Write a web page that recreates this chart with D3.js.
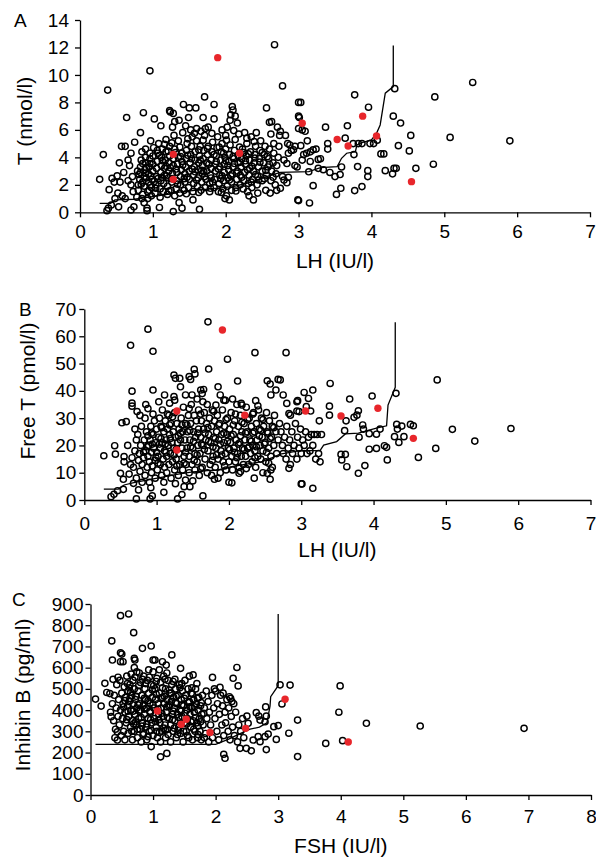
<!DOCTYPE html>
<html>
<head>
<meta charset="utf-8">
<script src="https://cdn.jsdelivr.net/npm/d3@7"></script>
<style>
  body { margin: 0; background: #fff; }
  svg text { font-family: "Liberation Sans", Arial, sans-serif; fill: #000; }
</style>
</head>
<body>
<svg id="chart" width="596" height="859"></svg>
<script>
// === Panel A: T vs LH ===
const aOpen = [
  [0.27,2.4],[0.32,4.2],[0.38,8.9],[0.37,0.12],[0.39,0.3],[0.43,0.53],[0.4,1.65],[0.44,2.47],[0.51,2.65],[0.55,2.2],
  [0.53,0.4],[0.54,3.6],[0.57,4.8],[0.62,4.8],[0.64,6.9],[0.68,3.4],[0.48,1.0],[0.58,1.2],[0.62,1.0],[0.66,2.3],
  [0.7,2.0],[0.72,2.6],[0.7,0.17],[0.74,0.4],[0.6,2.9],[0.66,3.8],[0.7,4.3],[0.73,1.5],[0.75,5.1],[0.47,2.2],[0.52,1.4],
  [0.78,1.1],[0.8,1.6],[0.8,2.0],[0.82,2.4],[0.83,2.9],[0.83,3.3],[0.84,3.8],[0.85,4.4],[0.83,5.8],[0.86,1.3],
  [0.87,7.25],[0.88,1.9],[0.88,2.6],[0.89,3.1],[0.9,3.6],[0.9,4.0],[0.9,4.6],[0.92,0.3],[0.92,0.12],[0.93,1.0],
  [0.93,1.5],[0.94,2.2],[0.94,2.8],[0.95,3.3],[0.96,3.9],[0.96,4.3],[0.97,5.2],[0.96,10.3],[0.98,1.2],[0.98,1.8],
  [0.99,2.4],[1.0,3.0],[1.0,3.5],[1.0,4.1],[1.02,6.8],[1.01,4.7],[0.79,3.0],[0.86,2.2],[0.91,2.5],[0.97,2.0],
  [0.95,1.6],[0.85,1.0],[0.88,0.7],
  [1.03,1.4],[1.04,2.0],[1.05,2.6],[1.05,3.2],[1.06,3.7],[1.07,4.3],[1.08,5.0],[1.09,0.35],[1.1,1.1],[1.1,1.7],
  [1.11,2.3],[1.11,2.9],[1.12,3.4],[1.12,4.0],[1.13,4.6],[1.11,6.3],[1.14,1.5],[1.15,2.1],[1.16,2.7],[1.16,3.2],
  [1.17,3.8],[1.18,4.4],[1.18,5.3],[1.2,1.3],[1.2,1.9],[1.21,2.5],[1.22,3.0],[1.22,3.6],[1.23,4.1],[1.23,4.8],
  [1.23,7.4],[1.24,7.3],[1.25,1.6],[1.26,2.2],[1.27,2.8],[1.28,3.4],[1.28,3.9],[1.28,7.2],[1.29,5.6],[1.3,4.6],
  [1.28,0.05],[1.3,1.2],[1.3,6.6],[1.27,6.2],
  [1.32,1.7],[1.33,2.3],[1.33,2.9],[1.34,3.5],[1.35,4.0],[1.35,5.2],[1.36,0.7],[1.37,1.4],[1.38,2.0],[1.38,2.6],
  [1.39,3.1],[1.4,3.7],[1.4,4.3],[1.41,5.8],[1.42,7.85],[1.43,1.6],[1.44,2.2],[1.44,2.8],[1.45,3.3],[1.46,3.9],
  [1.46,4.5],[1.47,5.0],[1.49,6.9],[1.5,7.6],[1.49,1.8],[1.5,2.4],[1.5,3.0],[1.51,3.6],[1.52,4.2],[1.53,4.8],
  [1.54,5.5],[1.55,1.5],[1.56,2.1],[1.56,2.7],[1.57,3.3],[1.58,3.8],[1.58,4.4],[1.59,7.6],[1.6,5.2],[1.55,0.9],
  [1.6,6.1],[1.45,6.3],[1.52,6.0],[1.36,6.7],[1.4,0.3],
  [1.61,1.9],[1.62,2.5],[1.62,3.1],[1.63,3.6],[1.64,4.1],[1.64,0.22],[1.65,4.8],[1.66,1.6],[1.67,2.2],[1.68,2.8],
  [1.68,3.4],[1.69,3.9],[1.7,4.5],[1.71,8.4],[1.71,5.6],[1.72,1.8],[1.73,2.4],[1.74,3.0],[1.74,3.6],[1.75,4.2],
  [1.76,4.8],[1.76,6.2],[1.78,1.5],[1.78,2.1],[1.79,2.7],[1.8,3.2],[1.8,3.8],[1.81,4.4],[1.82,5.1],[1.84,7.85],
  [1.84,6.8],[1.84,1.8],[1.85,2.4],[1.86,3.0],[1.86,3.5],[1.87,4.1],[1.88,4.7],[1.89,5.5],[1.9,1.5],[1.66,5.9],
  [1.72,6.1],[1.69,6.9],
  [1.91,2.1],[1.92,2.7],[1.92,3.3],[1.93,3.8],[1.94,4.4],[1.95,5.0],[1.96,1.7],[1.97,2.3],[1.98,2.9],[1.98,3.5],
  [1.99,4.0],[2.0,4.6],[2.0,5.6],[2.01,1.2],[2.02,1.9],[2.03,2.5],[2.04,3.1],[2.04,3.7],[2.05,4.2],[2.06,4.9],
  [2.06,6.7],[2.07,7.1],[2.08,1.6],[2.08,2.2],[2.09,2.8],[2.09,7.7],[2.1,7.45],[2.1,3.3],[2.11,3.9],[2.12,4.5],
  [2.13,7.0],[2.13,5.3],[2.14,1.8],[2.15,2.4],[2.16,3.0],[2.16,6.5],[2.17,3.6],[2.18,5.7],[2.2,2.0],[2.2,2.7],
  [2.02,6.2],[1.95,6.0],[2.05,0.9],[1.99,1.0],
  [2.21,3.3],[2.22,3.9],[2.23,4.6],[2.24,1.7],[2.25,2.3],[2.26,2.9],[2.27,3.5],[2.28,4.1],[2.29,5.0],[2.3,1.5],
  [2.31,2.1],[2.32,2.7],[2.33,3.2],[2.33,3.8],[2.34,4.4],[2.35,5.5],[2.36,1.8],[2.37,2.4],[2.38,3.0],[2.39,3.6],
  [2.4,4.2],[2.41,4.8],[2.42,5.8],[2.43,2.0],[2.44,2.6],[2.45,3.3],[2.46,3.9],[2.47,4.5],[2.48,5.2],[2.5,2.3],
  [2.5,3.0],[2.26,5.8],[2.32,1.2],[2.44,1.4],[2.38,0.9],
  [2.52,3.6],[2.53,4.2],[2.54,4.8],[2.55,1.6],[2.56,7.6],[2.56,2.7],[2.58,3.3],[2.59,3.9],[2.6,6.55],[2.6,4.6],
  [2.61,1.4],[2.62,2.3],[2.63,6.6],[2.63,3.0],[2.65,3.6],[2.66,4.3],[2.66,5.0],[2.67,12.2],[2.68,2.0],[2.69,2.8],
  [2.7,3.4],[2.71,6.2],[2.72,4.0],[2.73,4.8],[2.74,5.6],[2.75,1.75],[2.75,5.9],[2.78,9.2],[2.78,2.6],[2.8,3.8],
  [2.8,2.35],[2.82,5.6],[2.84,3.55],[2.84,2.15],[2.85,5.0],[2.86,4.3],[2.86,2.55],[2.88,4.9],[2.9,4.5],[2.93,4.55],
  [2.95,4.8],[2.95,3.4],[2.98,3.3],[2.99,0.9],[3.0,8.0],[3.0,7.0],[3.0,6.1],[2.7,1.6],[2.62,5.7],
  [1.07,2.45],[1.13,3.75],[1.19,2.65],[1.24,3.25],[1.31,4.35],[1.34,2.05],[1.41,3.45],[1.47,2.55],[1.53,3.9],[1.58,2.95],
  [1.63,4.55],[1.67,3.05],[1.71,2.6],[1.77,3.5],[1.82,2.2],[1.87,3.7],[1.93,2.45],[1.97,4.3],[2.03,3.4],[2.07,2.65],
  [2.12,3.55],[2.17,4.15],[2.22,2.55],[2.27,3.75],[2.31,4.25],[2.36,3.35],[2.41,2.75],[2.47,3.65],[2.53,2.45],[2.57,4.05],
  [1.09,4.15],[1.16,4.95],[1.26,5.05],[1.37,4.75],[1.48,5.35],[1.57,5.75],[1.69,5.25],[1.81,5.75],[1.91,4.75],[2.01,5.25],
  [2.11,5.95],[2.19,4.75],[2.29,5.4],[2.39,5.15],[0.97,2.65],[0.91,3.25],[0.86,3.55],[0.81,2.75],[1.04,1.75],[1.22,1.55],
  [1.46,1.35],[1.63,1.45],[1.79,1.75],[1.94,1.45],[2.14,1.55],
  [0.84,2.05],[0.9,2.85],[0.96,3.55],[1.02,2.25],[1.06,4.5],[1.12,2.55],[1.18,3.35],[1.21,4.45],[1.26,2.45],[1.32,3.15],
  [1.38,4.05],[1.43,2.45],[1.48,4.15],[1.54,3.15],[1.6,2.35],[1.65,3.8],[1.7,2.95],[1.75,4.65],[1.8,2.5],[1.84,4.2],
  [1.9,3.15],[1.95,2.65],[2.0,3.75],[2.05,2.35],[2.1,4.05],[2.15,2.85],[2.2,3.65],[2.25,4.35],[2.3,3.1],[2.35,2.2],
  [2.4,3.95],[2.45,2.35],[2.5,4.35],[2.55,3.05],[2.6,3.5],[2.65,2.55],
  [3.03,8.0],[3.01,6.9],[3.05,6.0],[3.09,5.9],[3.12,5.2],[3.03,4.85],[3.07,4.2],[3.11,4.3],[3.16,4.4],[3.2,4.55],
  [3.24,4.6],[3.05,3.8],[3.16,3.7],[3.27,3.85],[3.3,3.9],[3.14,2.95],[3.27,3.2],[3.34,3.1],[3.43,2.9],[3.5,2.6],
  [3.57,2.75],[3.59,3.3],[3.37,6.2],[3.4,5.0],[3.4,4.6],[3.64,5.4],[3.67,6.3],[3.77,8.55],[3.96,7.65],[3.75,5.0],
  [3.82,5.0],[3.87,5.0],[3.76,4.2],[3.81,3.33],[3.95,3.03],[3.95,2.6],[3.98,5.0],[4.03,5.0],[4.08,5.25],[3.58,1.75],
  [3.52,1.3],[3.77,1.58],[3.87,1.87],[3.2,1.94],[3.0,0.85],[3.15,0.68],[4.13,4.25],[4.17,4.25],[4.19,3.03],[4.29,2.8],
  [4.31,3.2],[4.34,3.2],[4.32,9.0],[4.3,7.0],[4.4,6.5],[4.54,5.6],[4.37,4.85],[4.52,4.47],[4.61,3.2],[4.85,3.5],
  [4.87,8.4],[5.08,5.45],[5.39,9.45],[5.9,5.2]
];
const aRed = [[1.28,4.22],[1.28,2.4],[1.89,11.26],[2.19,4.3],[3.05,6.48],[3.53,5.3],[3.68,4.83],[3.88,7.0],[4.07,5.56],[4.55,2.23]];
const aLine = [
  [0.27,0.65],[0.42,0.65],[0.48,0.9],[0.75,0.95],[0.95,1.1],[1.2,1.3],[1.4,1.5],[1.65,1.63],[2.1,1.87],[2.38,2.23],
  [2.56,2.6],[2.75,2.91],[3.14,2.96],[3.3,3.25],[3.53,3.33],[3.59,3.93],[3.66,4.3],[3.78,4.42],[3.8,4.9],[3.87,5.07],
  [4.0,5.27],[4.07,5.75],[4.12,6.36],[4.19,8.67],[4.3,9.15],[4.3,12.14]
];
const aXTicks = [0, 1, 2, 3, 4, 5, 6, 7];
const aYTicks = [0, 2, 4, 6, 8, 10, 12, 14];

// === Panel B: Free T vs LH ===
const bOpen = [
  [0.27,16.2],[0.37,1.2],[0.41,2.1],[0.46,3.4],[0.42,19.9],[0.43,16.8],[0.5,9.8],[0.54,7.6],[0.54,3.9],[0.55,14],
  [0.55,15.9],[0.58,28.7],[0.52,28.3],[0.64,56.7],[0.66,39.9],[0.66,34.4],[0.73,32.4],[0.72,0.4],[0.75,3.7],[0.68,6.1],
  [0.88,62.6],[0.95,54.5],[0.95,40.3],[0.91,0.4],[0.94,1.5],[1.1,2.8],[1.11,38.5],[1.24,45.8],[1.26,44.6],[1.32,44.6],
  [1.33,41.5],[1.24,37.9],[1.25,36.6],[1.29,0.4],[1.35,2],[1.38,4.9],[1.4,7.3],[1.46,4.9],[1.45,45.2],[1.47,44.2],
  [1.52,47.9],[1.53,46.2],[1.4,38.5],[1.49,38.5],[1.64,1.5],[1.61,40.3],[1.65,40.5],[1.63,39],[1.71,65.3],[1.72,48],
  [1.82,34.8],[1.85,41.5],[1.88,38.5],[1.93,36.6],[1.98,51.6],[1.8,7.6],[2.04,6.3],[2.12,43.6],[2.14,9.8],[2.16,10.4],
  [2.17,35.4],[2.18,34.8],[2.36,54],[2.37,36.4],[2.33,31.5],[2.53,43.7],[2.57,42.5],[2.68,44.2],[2.65,40.3],[2.58,38.5],
  [2.79,54],[2.75,38.5],[2.8,35.4],[2.83,31.7],[2.85,31.1],[2.53,9.8],[2.57,7.6],[2.58,11],[2.83,11.6],[2.95,36.4],
  [2.97,32.4],[3.0,5.9],
  [2.71,44],[2.94,36],[2.94,32.6],[3.04,39.4],[3.1,37.2],[3.16,40.3],[3.07,34.2],[3.13,32.6],[3.4,42.7],[3.39,34.4],
  [3.39,31.1],[3.67,37],[3.25,29],[3.55,16.7],[3.61,16.7],[3.56,14.7],[3.63,12.2],[3.01,5.9],[3.16,4.3],[3.62,29],
  [3.73,30.3],[3.79,32.7],[3.77,31.1],[3.6,25.4],[3.8,23],[3.85,27.5],[3.86,26],[3.94,24.3],[3.98,38.1],[4.04,24.1],
  [4.09,26],[3.94,18.6],[4.04,18.9],[3.79,9.8],[3.88,12.6],[4.15,19.9],[4.18,19.3],[4.19,14.7],[4.29,23.2],[4.35,21.1],
  [4.42,23.2],[4.33,26],[4.32,27.7],[4.39,27.1],[4.51,27.7],[4.55,27.2],[4.31,39.1],[4.62,15.6],[4.86,18.9],[4.88,44],
  [5.09,25.9],[5.4,21.6],[5.9,26.2],
  [0.62,9.5],[0.64,13],[0.66,15.5],[0.68,12],[0.7,18],[0.72,22],[0.72,8],[0.74,24],[0.75,14.5],[0.76,17],
  [0.77,10.5],[0.78,20],[0.79,27],[0.8,6.5],[0.8,13],[0.82,15.5],[0.83,22],[0.84,9],[0.84,30],[0.85,18],
  [0.86,25],[0.87,12],[0.88,16],[0.88,33.5],[0.89,20],[0.9,6.5],[0.9,14],[0.91,22],[0.92,27],[0.93,10],
  [0.93,17.5],[0.94,12.5],[0.95,24],[0.96,19],[0.97,29],[0.98,8],[0.98,14.5],[0.99,21],[1.0,26],[0.77,31],
  [0.7,26],[0.85,35],[0.66,35.5],[0.6,20],[0.92,4.5],
  [1.01,11],[1.02,16],[1.03,23],[1.04,30],[1.05,13],[1.05,19],[1.06,27],[1.07,9],[1.08,21],[1.08,33],
  [1.09,15],[1.1,25],[1.11,12],[1.11,18],[1.12,29],[1.13,22],[1.14,10],[1.14,16],[1.15,26],[1.16,20],
  [1.17,13],[1.17,31],[1.18,24],[1.19,17],[1.2,8],[1.2,28],[1.21,21],[1.22,14],[1.23,25],[1.24,19],
  [1.25,11],[1.25,32],[1.26,23],[1.27,15],[1.28,28],[1.29,21],[1.3,9],[1.31,17],[1.31,26],[1.32,13],
  [1.33,22],[1.34,30],[1.35,19],[1.36,11],[1.36,25],[1.37,34],[1.38,16],[1.39,22],[1.4,28],[1.03,36],
  [1.1,6.5],[1.18,35.5],[1.26,6],
  [1.41,13],[1.42,19],[1.43,25],[1.44,31],[1.45,10],[1.45,16],[1.46,22],[1.47,28],[1.48,35],[1.49,13],
  [1.5,19],[1.51,25],[1.52,31],[1.53,11],[1.53,17],[1.54,23],[1.55,29],[1.56,14],[1.57,20],[1.58,26],
  [1.58,33],[1.59,9],[1.6,17],[1.61,23],[1.62,29],[1.63,12],[1.64,20],[1.65,26],[1.66,32],[1.67,15],
  [1.68,22],[1.69,28],[1.7,10],[1.7,35],[1.71,18],[1.72,24],[1.73,30],[1.74,13],[1.75,21],[1.76,27],
  [1.77,33],[1.78,16],[1.79,23],[1.8,29],[1.56,37],[1.64,36],[1.5,7],[1.76,9],
  [1.81,12],[1.82,19],[1.83,25],[1.84,31],[1.85,15],[1.86,22],[1.87,28],[1.88,10],[1.89,18],[1.9,24],
  [1.91,33],[1.92,14],[1.93,21],[1.94,27],[1.95,17],[1.96,11],[1.97,24],[1.98,30],[1.99,19],[2.0,14],
  [2.01,26],[2.02,21],[2.03,32],[2.04,16],[2.05,11],[2.06,24],[2.07,19],[2.08,29],[2.09,14],[2.1,22],
  [2.11,35],[2.12,17],[2.13,27],[2.14,12],[2.15,21],[2.16,31],[2.17,16],[2.18,25],[2.19,19],[2.2,13],
  [1.95,36.5],[2.05,37],[1.85,8],[2.0,6.5],
  [2.21,28],[2.22,22],[2.23,16],[2.24,34],[2.25,25],[2.26,19],[2.27,13],[2.28,30],[2.29,22],[2.3,17],
  [2.31,27],[2.32,14],[2.33,20],[2.34,32],[2.35,25],[2.36,18],[2.37,12],[2.38,28],[2.39,22],[2.4,16],
  [2.41,33],[2.42,26],[2.43,20],[2.44,15],[2.45,30],[2.46,23],[2.47,18],[2.48,27],[2.5,21],[2.51,14],
  [2.52,32],[2.53,25],[2.55,19],[2.56,29],[2.58,16],[2.59,23],[2.6,27],[2.62,20],[2.63,31],[2.65,25],
  [2.66,17],[2.68,22],[2.7,28],[2.47,10],[2.35,8],[2.6,12],
  [2.72,25],[2.74,20],[2.75,17],[2.77,23],[2.79,15],[2.8,27],[2.82,19],[2.84,22],[2.85,13],[2.87,25],
  [2.88,17],[2.9,20],[2.92,28],[2.94,15],[2.95,23],[2.97,19],[2.99,26],[3.0,17],[3.02,22],[3.04,20],
  [3.06,25],[3.08,17],[3.1,23],[3.12,18],[3.14,24],[3.16,20],[3.18,24],[3.2,15],[3.22,24],[3.24,17],
  [3.26,14],[3.28,24],
  [0.87,19.5],[0.93,24.5],[0.99,15.5],[1.04,20.5],[1.07,26.5],[1.13,17.5],[1.19,22.5],[1.22,30.5],[1.27,18.5],[1.33,24.5],
  [1.38,13.5],[1.42,27.5],[1.47,19.5],[1.52,14.5],[1.57,24.5],[1.61,31.5],[1.66,18.5],[1.71,26.5],[1.77,14.5],[1.81,22.5],
  [1.86,27.5],[1.9,16.5],[1.96,29.5],[2.01,18.5],[2.06,27.5],[2.11,15.5],[2.16,23.5],[2.21,18.5],[2.26,29.5],[2.31,21.5],
  [2.36,15.5],[2.42,23.5],[2.47,29.5],[2.52,17.5],[2.57,22.5],[2.62,26.5],[1.15,31.5],[1.28,12.5],[1.45,33.5],[1.61,11.5],
  [1.79,32.5],[1.94,12.5],[2.09,31.5],[2.24,11.5],[2.4,34.5],[2.55,13.5],[1.02,13.5],[0.95,31.5],
  [0.82,17.5],[0.88,23.5],[0.94,20.5],[1.0,17.5],[1.06,22.5],[1.12,20.5],[1.18,27.5],[1.24,16.5],[1.3,23.5],[1.35,27.5],
  [1.4,17.5],[1.46,25.5],[1.51,21.5],[1.56,16.5],[1.62,20.5],[1.67,24.5],[1.72,21.5],[1.78,19.5],[1.83,16.5],[1.88,20.5],
  [1.93,24.5],[1.98,21.5],[2.03,23.5],[2.08,17.5],[2.13,20.5],[2.18,28.5],[2.23,24.5],[2.28,19.5],[2.33,24.5],[2.38,19.5],
  [2.44,25.5],[2.49,20.5],[2.54,24.5]
];
const bRed = [[1.28,32.6],[1.28,18.3],[1.91,62.3],[2.22,31.1],[3.06,32.6],[3.55,30.8],[4.06,33.6],[4.55,22.6]];
const bLine = [
  [0.27,4],[0.47,4],[0.55,5.5],[0.7,6.5],[0.9,7.5],[1.1,8.5],[1.3,9.5],[1.5,10.3],[1.7,10.8],[1.85,11.0],
  [2.0,12],[2.2,13],[2.45,14],[2.6,15.5],[2.71,16.85],[2.98,18.1],[3.26,18.1],[3.31,20.1],[3.49,21.4],[3.61,24.2],
  [3.79,24.5],[4.04,26.3],[4.18,27.2],[4.2,34.8],[4.3,41.3],[4.3,65.1]
];
const bXTicks = [0, 1, 2, 3, 4, 5, 6, 7];
const bYTicks = [0, 10, 20, 30, 40, 50, 60, 70];

// === Panel C: Inhibin B vs FSH ===
const cOpen = [
  [0.08,452],[0.17,419],[0.23,526],[0.26,483],[0.31,478],[0.34,726],[0.35,636],[0.33,369],[0.43,298],[0.43,259],
  [0.48,845],[0.61,853],[0.48,670],[0.5,664],[0.48,628],[0.52,628],[0.69,765],[0.7,644],[0.71,636],[0.83,691],
  [0.97,702],[1.0,636],[1.03,636],[1.15,628],[1.21,612],[1.3,660],[1.44,597],[1.64,566],[1.95,554],[2.07,507],
  [2.28,550],[2.34,601],[2.36,514],[2.22,463],[2.24,455],[0.97,228],[1.12,180],[1.22,196],[2.13,192],[2.15,173],
  [2.39,220],[2.49,220],[2.57,208],[2.81,214],[2.5,372],[2.52,338],[2.65,388],[2.69,372],[2.71,353],[2.79,345],
  [2.81,372],[2.8,415],[2.6,259],[2.68,275],[2.71,251],[2.79,275],[2.84,287],[2.93,322],[3.0,327],[2.97,262],
  [3.03,519],[3.19,518],[3.06,429],[3.31,353],[3.17,291],[3.31,181],[3.99,514],[3.97,390],[4.41,338],[3.76,243],
  [4.03,256],[5.27,325],[6.93,314],
  [0.32,390],[0.35,430],[0.37,350],[0.38,470],[0.4,310],[0.41,410],[0.42,520],[0.44,370],[0.45,450],[0.46,330],
  [0.47,540],[0.48,400],[0.49,280],[0.5,480],[0.51,360],[0.52,430],[0.53,300],[0.54,510],[0.55,260],[0.55,390],
  [0.56,460],[0.57,340],[0.58,560],[0.59,420],[0.6,290],[0.6,490],[0.36,545],[0.44,555],[0.39,270],
  [0.61,370],[0.62,440],[0.63,520],[0.64,320],[0.65,400],[0.66,470],[0.67,260],[0.67,350],[0.68,540],[0.69,430],
  [0.7,300],[0.7,500],[0.71,380],[0.72,450],[0.73,330],[0.74,580],[0.74,410],[0.75,270],[0.76,490],[0.77,360],
  [0.78,430],[0.79,310],[0.8,530],[0.8,400],[0.81,250],[0.82,470],[0.83,340],[0.84,420],[0.85,290],[0.85,560],
  [0.86,380],[0.87,500],[0.88,450],[0.89,320],[0.9,410],[0.9,260],[0.91,540],[0.92,360],[0.93,480],[0.94,300],
  [0.95,430],[0.96,390],[0.97,520],[0.98,340],[0.99,460],[1.0,280],[1.0,580],[0.7,600],[0.78,575],[0.93,590],
  [0.65,570],
  [1.01,410],[1.02,360],[1.03,500],[1.04,450],[1.05,320],[1.06,550],[1.07,270],[1.08,430],[1.09,380],[1.1,480],
  [1.11,340],[1.12,250],[1.12,530],[1.13,410],[1.14,300],[1.15,460],[1.16,370],[1.17,560],[1.18,430],[1.19,330],
  [1.2,500],[1.2,270],[1.21,390],[1.22,450],[1.23,310],[1.24,540],[1.25,420],[1.26,360],[1.27,480],[1.28,250],
  [1.28,330],[1.29,440],[1.3,520],[1.31,380],[1.32,300],[1.33,460],[1.34,410],[1.35,350],[1.36,500],[1.37,270],
  [1.38,430],[1.39,380],[1.4,470],[1.1,590],[1.22,575],[1.35,545],
  [1.41,320],[1.42,520],[1.43,400],[1.44,290],[1.45,450],[1.46,370],[1.47,490],[1.48,250],[1.49,420],[1.5,340],
  [1.51,540],[1.52,470],[1.53,300],[1.54,400],[1.55,360],[1.56,500],[1.57,270],[1.58,440],[1.59,380],[1.6,320],
  [1.61,480],[1.62,410],[1.63,260],[1.64,350],[1.65,450],[1.66,390],[1.67,300],[1.68,500],[1.69,430],[1.7,340],
  [1.71,270],[1.72,400],[1.73,460],[1.74,360],[1.75,300],[1.76,420],[1.77,260],[1.78,380],[1.79,470],[1.8,330],
  [1.82,410],[1.84,290],[1.85,490],[1.86,360],[1.88,440],[1.89,250],[1.9,390],[1.58,560],[1.7,525],
  [1.92,330],[1.94,470],[1.95,270],[1.97,410],[1.99,360],[2.0,490],[2.02,300],[2.03,430],[2.05,260],[2.06,380],
  [2.08,470],[2.1,330],[2.11,420],[2.13,280],[2.15,390],[2.16,340],[2.18,450],[2.2,300],[2.21,410],[2.23,260],
  [2.25,370],[2.27,320],[2.29,430],[2.3,280],[2.32,390],[2.35,250],[2.37,330],[2.4,300],[2.43,360],[2.45,270],
  [1.98,500],[2.12,480],[2.26,440],
  [0.53,415],[0.58,355],[0.63,455],[0.68,395],[0.72,345],[0.76,425],[0.81,365],[0.86,455],[0.9,335],[0.95,395],
  [0.99,495],[1.04,345],[1.08,405],[1.13,455],[1.17,315],[1.22,415],[1.26,495],[1.31,355],[1.36,435],[1.4,305],
  [1.45,395],[1.5,455],[1.54,335],[1.59,415],[1.63,475],[1.68,365],[1.72,325],[1.77,435],[0.62,505],[0.77,515],
  [0.88,525],[1.01,515],[1.15,505],[1.29,480],[1.43,505],[0.66,300],[0.84,285],[0.97,305],[1.1,295],[1.24,285],
  [1.39,285],[1.55,280],[1.72,285],
  [0.55,445],[0.6,395],[0.64,485],[0.69,335],[0.73,465],[0.78,395],[0.82,325],[0.86,405],[0.92,445],[0.96,355],
  [1.0,425],[1.05,475],[1.09,355],[1.14,385],[1.18,465],[1.23,365],[1.27,425],[1.32,395],[1.37,465],[1.41,365],
  [1.46,425],[1.51,385],[1.56,435],[1.61,345],[1.66,415],[1.71,455],[1.76,345],[1.81,385],[0.59,525],[0.71,555],
  [0.83,545],[0.94,555],[1.05,535],[1.19,545],[1.32,535],[1.46,525],[1.62,505],[0.75,310],[0.92,275],[1.06,300],
  [1.2,305],[1.34,315],[1.49,300],[1.65,310],[1.82,270]
];
const cRed = [[1.07,396],[1.45,333],[1.53,357],[1.91,295],[2.48,314],[3.11,451],[4.12,250]];
const cLine = [
  [0.08,239],[2.0,239],[2.2,262],[2.4,290],[2.55,310],[2.7,320],[2.82,340],[2.87,420],[2.88,463],[3.0,515],[3.0,853]
];
const cXTicks = [0, 1, 2, 3, 4, 5, 6, 7, 8];
const cYTicks = [0, 100, 200, 300, 400, 500, 600, 700, 800, 900];

const svg = d3.select("#chart");
const RED = "#e8262b";

function drawPanel(p) {
  const x = d3.scaleLinear().domain([0, p.xMax]).range([p.left, p.right]);
  const y = d3.scaleLinear().domain([0, p.yMax]).range([p.bottom, p.top]);
  const g = svg.append("g");

  // axes
  const xAxis = g.append("g").attr("transform", `translate(0,${p.bottom})`)
    .call(d3.axisBottom(x).tickValues(p.xTicks).tickFormat(d3.format("d"))
      .tickSize(5).tickSizeOuter(0).tickPadding(p.xPad));
  const yAxis = g.append("g").attr("transform", `translate(${p.left},0)`)
    .call(d3.axisLeft(y).tickValues(p.yTicks).tickFormat(d3.format("d"))
      .tickSize(5).tickSizeOuter(0).tickPadding(p.yPad));
  [xAxis, yAxis].forEach(a => {
    a.attr("font-size", null).attr("font-family", null);
    a.selectAll("text").style("font-size", "19px");
    a.selectAll("path, line").attr("stroke", "#000").attr("stroke-width", 1.3);
  });

  // open circles
  g.selectAll("circle.open").data(p.open).enter().append("circle")
    .attr("class", "open")
    .attr("cx", d => x(d[0])).attr("cy", d => y(d[1])).attr("r", 3.1)
    .attr("fill", "none").attr("stroke", "#000").attr("stroke-width", 1.45);

  // line
  g.append("path").datum(p.line)
    .attr("d", d3.line().x(d => x(d[0])).y(d => y(d[1])))
    .attr("fill", "none").attr("stroke", "#000").attr("stroke-width", 1.3);

  // red points
  g.selectAll("circle.red").data(p.red).enter().append("circle")
    .attr("class", "red")
    .attr("cx", d => x(d[0])).attr("cy", d => y(d[1])).attr("r", 3.7)
    .attr("fill", RED);

  // titles
  g.append("text").attr("x", (p.left + p.right) / 2).attr("y", p.xTitleY)
    .attr("text-anchor", "middle").style("font-size", "21px").text(p.xTitle);
  g.append("text")
    .attr("transform", `translate(${p.yTitleX},${p.yTitleC}) rotate(-90)`)
    .attr("text-anchor", "middle").style("font-size", "21px").text(p.yTitle);
  g.append("text").attr("x", p.letterX).attr("y", p.letterY)
    .style("font-size", "19px").text(p.letter);
}

drawPanel({
  letter: "A", letterX: 14, letterY: 27,
  left: 80, right: 590, top: 20, bottom: 212.3, xMax: 7, yMax: 14,
  xTicks: aXTicks, yTicks: aYTicks, xPad: 7, yPad: 6,
  open: aOpen, red: aRed, line: aLine,
  xTitle: "LH (IU/l)", xTitleY: 268, yTitle: "T (nmol/l)", yTitleX: 32, yTitleC: 121
});
drawPanel({
  letter: "B", letterX: 19, letterY: 316,
  left: 84.3, right: 590.5, top: 309, bottom: 500, xMax: 7, yMax: 70,
  xTicks: bXTicks, yTicks: bYTicks, xPad: 12, yPad: 3,
  open: bOpen, red: bRed, line: bLine,
  xTitle: "LH (IU/l)", xTitleY: 557, yTitle: "Free T (pmol/l)", yTitleX: 35, yTitleC: 391
});
drawPanel({
  letter: "C", letterX: 12, letterY: 606,
  left: 90.5, right: 591, top: 604, bottom: 795, xMax: 8, yMax: 900,
  xTicks: cXTicks, yTicks: cYTicks, xPad: 10, yPad: 2,
  open: cOpen, red: cRed, line: cLine,
  xTitle: "FSH (IU/l)", xTitleY: 853, yTitle: "Inhibin B (pg/ml)", yTitleX: 30, yTitleC: 695
});
</script>
</body>
</html>
